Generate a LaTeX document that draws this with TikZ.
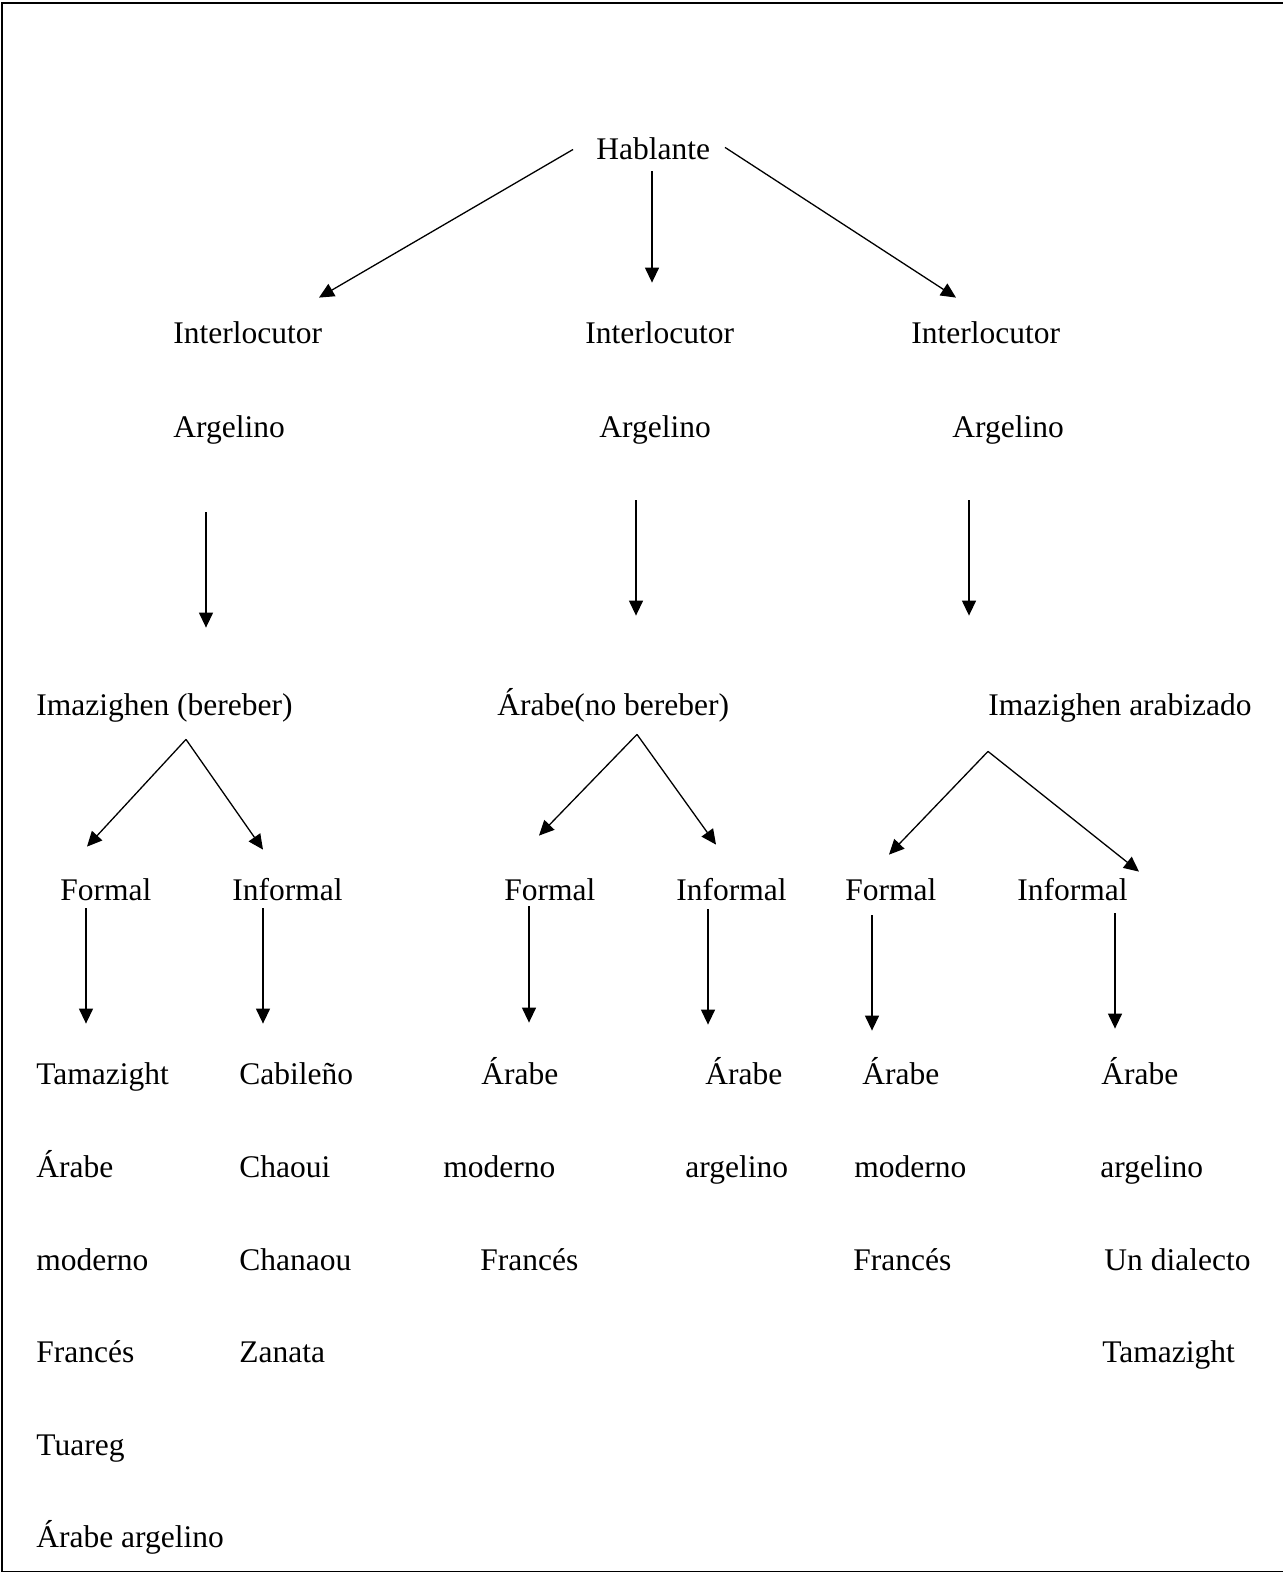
\documentclass[tikz,border=0pt]{standalone}
\usepackage{fontspec}
\setmainfont{Liberation Serif}
\usepackage{tikz}
\usetikzlibrary{arrows.meta}

\begin{document}
\begin{tikzpicture}[
    x=0.5pt, y=-0.5pt,
    lbl/.style={anchor=base west, inner sep=0pt, text height=11pt, text depth=3.5pt, font=\fontsize{15.75}{19}\selectfont},
    line/.style={-{Triangle[length=7.5pt, width=7pt]}, line width=0.65pt}
]
\useasboundingbox (0,0) rectangle (1283,1573);

% Frame
\draw[line width=0.85pt] (1283,3.3) -- (2.2,3.3) -- (2.2,1571.5) -- (1283,1571.5);

% Speaker and listeners
\node[lbl] (hab) at (596,160) {Hablante};
\node[lbl] (int1) at (173,343) {Interlocutor};
\node[lbl] (int2) at (585,343) {Interlocutor};
\node[lbl] (int3) at (911,343) {Interlocutor};
\node[lbl] (arg1) at (173,437) {Argelino};
\node[lbl] (arg2) at (599,437) {Argelino};
\node[lbl] (arg3) at (952,437) {Argelino};

% Groups
\node[lbl] (ber) at (36,715) {Imazighen (bereber)};
\node[lbl] (arab) at (497,715) {Árabe(no bereber)};
\node[lbl] (arbz) at (988,715) {Imazighen arabizado};

% Registers
\node[lbl] (form1) at (60,900) {Formal};
\node[lbl] (inf1) at (232,900) {Informal};
\node[lbl] (form2) at (504,900) {Formal};
\node[lbl] (inf2) at (676,900) {Informal};
\node[lbl] (form3) at (845,900) {Formal};
\node[lbl] (inf3) at (1017,900) {Informal};

% Languages, column 1
\node[lbl] (tam1) at (36,1084) {Tamazight};
\node[lbl] at (36,1177) {Árabe};
\node[lbl] at (36,1270) {moderno};
\node[lbl] at (36,1362) {Francés};
\node[lbl] at (36,1455) {Tuareg};
\node[lbl] at (36,1547) {Árabe argelino};

% Languages, column 2
\node[lbl] (cab) at (239,1084) {Cabileño};
\node[lbl] at (239,1177) {Chaoui};
\node[lbl] at (239,1270) {Chanaou};
\node[lbl] at (239,1362) {Zanata};

% Languages, columns 3 and 4
\node[lbl] (ara2) at (481,1084) {Árabe};
\node[lbl] at (443,1177) {moderno};
\node[lbl] at (480,1270) {Francés};
\node[lbl] (ara3) at (705,1084) {Árabe};
\node[lbl] at (685,1177) {argelino};

% Languages, columns 5 and 6
\node[lbl] (ara4) at (862,1084) {Árabe};
\node[lbl] at (854,1177) {moderno};
\node[lbl] at (853,1270) {Francés};
\node[lbl] (ara5) at (1101,1084) {Árabe};
\node[lbl] at (1100,1177) {argelino};
\node[lbl] at (1104,1270) {Un dialecto};
\node[lbl] at (1102,1362) {Tamazight};

% Fork points
\coordinate (fk1) at ([shift={(150,17)}]ber.south west);
\coordinate (fk2) at ([shift={(140,12)}]arab.south west);
\coordinate (fk3) at ([shift={(0,29)}]arbz.south west);

% Arrows from speaker
\draw[line] ([shift={(-23,-3)}]hab.west) -- ([shift={(146,-23)}]int1.north west);
\draw[line] ([shift={(56,4)}]hab.south west) -- ([shift={(67,-38)}]int2.north west);
\draw[line] ([shift={(129,-20)}]hab.south west) -- ([shift={(45,-23)}]int3.north west);

% Arrows to groups
\draw[line] ([shift={(33,68)}]arg1.south west) -- ([shift={(170,-65)}]ber.north west);
\draw[line] ([shift={(37,56)}]arg2.south west) -- ([shift={(139,-77)}]arab.north west);
\draw[line] ([shift={(17,56)}]arg3.south west) -- ([shift={(-19,-77)}]arbz.north west);

% Forks
\draw[line] (fk1) -- ([shift={(27,-31)}]form1.north west);
\draw[line] (fk1) -- ([shift={(31,-28)}]inf1.north west);
\draw[line] (fk2) -- ([shift={(35,-42)}]form2.north west);
\draw[line] (fk2) -- ([shift={(40,-33)}]inf2.north west);
\draw[line] (fk3) -- ([shift={(44,-23)}]form3.north west);
\draw[line] (fk3) -- ([shift={(122,-6)}]inf3.north west);

% Arrows to languages
\draw[line] ([shift={(26,1)}]form1.south west) -- ([shift={(50,-38)}]tam1.north west);
\draw[line] ([shift={(31,1)}]inf1.south west) -- ([shift={(24,-38)}]cab.north west);
\draw[line] ([shift={(25,-1)}]form2.south west) -- ([shift={(48,-39)}]ara2.north west);
\draw[line] ([shift={(32,2)}]inf2.south west) -- ([shift={(3,-37)}]ara3.north west);
\draw[line] ([shift={(27,8)}]form3.south west) -- ([shift={(10,-31)}]ara4.north west);
\draw[line] ([shift={(98,6)}]inf3.south west) -- ([shift={(14,-33)}]ara5.north west);

\end{tikzpicture}
\end{document}
